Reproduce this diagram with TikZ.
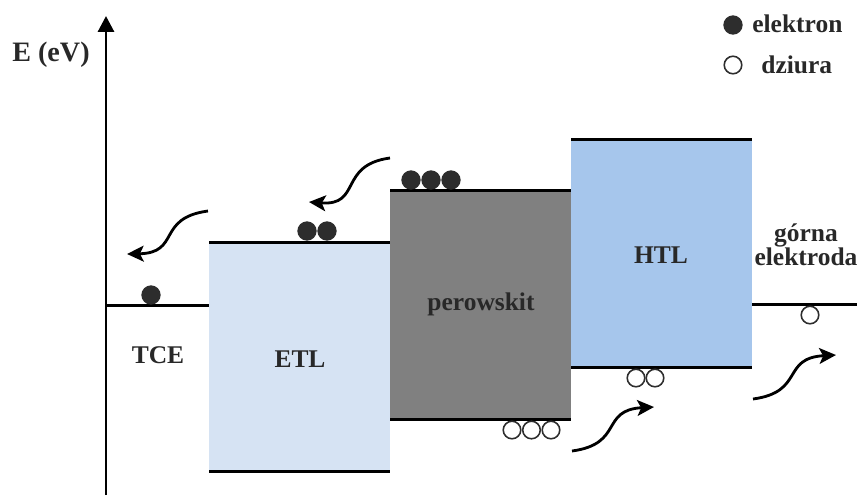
\documentclass[tikz,border=0pt]{standalone}
\usepackage{fontspec}
\setmainfont{Liberation Serif}
\usetikzlibrary{arrows.meta}

\definecolor{etlblue}{RGB}{214,227,243}
\definecolor{htlblue}{RGB}{166,198,236}
\definecolor{perogray}{RGB}{128,128,128}
\definecolor{dotgray}{RGB}{45,45,45}
\definecolor{textgray}{RGB}{40,40,40}

\begin{document}
\begin{tikzpicture}[x=0.02cm, y=-0.02cm,
	level/.style={line width=1.7pt},
	electron/.style={circle, fill=dotgray, inner sep=0pt, minimum size=11pt},
	hole/.style={circle, draw=dotgray, line width=0.9pt, fill=white, inner sep=0pt, minimum size=10pt},
	layertext/.style={font=\fontsize{14.5}{13.6}\selectfont\bfseries, text=textgray, inner sep=0pt, anchor=base},
	hop/.style={line width=1.6pt, -{Stealth[length=9.5pt, width=9pt, inset=2.2pt]}}]

	\useasboundingbox (0,0) rectangle (860,495);

	% Layers
	\fill[etlblue]  (209,242) rectangle (390,471);
	\fill[perogray] (390,190) rectangle (571,419);
	\fill[htlblue]  (571,139) rectangle (752,367);

	% Band edges
	\draw[level] (106,305) -- (209,305);
	\draw[level] (209,242) -- (390,242);
	\draw[level] (209,471) -- (390,471);
	\draw[level] (390,190) -- (571,190);
	\draw[level] (390,419) -- (571,419);
	\draw[level] (571,139) -- (752,139);
	\draw[level] (571,367) -- (752,367);
	\draw[level] (752,304) -- (857,304);

	% Energy axis
	\draw[line width=1.7pt, -{Triangle[length=9pt, width=9pt]}] (106,495) -- (106,16);
	\node[layertext, font=\fontsize{16}{16}\selectfont\bfseries] (eaxis) at (51,61) {E (eV)};

	% Layer names
	\node[layertext] (tce)  at (158,363) {TCE};
	\node[layertext] (etl)  at (300,367) {ETL};
	\node[layertext] (pero) at (481,310) {perowskit};
	\node[layertext] (htl)  at (661,263) {HTL};
	\node[layertext, align=center] (elec) at (806,265) {górna\\elektroda};

	% Electrons
	\node[electron] (e1) at (151,295) {};
	\node[electron] (e2) at (307,231) {};
	\node[electron] (e3) at (327,231) {};
	\foreach \x [count=\i from 4] in {411,431,451}
		\node[electron] (e\i) at (\x,180) {};

	% Holes
	\foreach \x [count=\i] in {512,531.5,551}
		\node[hole] (h\i) at (\x,430) {};
	\node[hole] (h4) at (636,378) {};
	\node[hole] (h5) at (655,378) {};
	\node[hole] (h6) at (810,315) {};

	% Transfer arrows
	\coordinate (a1) at (390,158);
	\coordinate (b1) at (309,202);
	\coordinate (a2) at (208,211);
	\coordinate (b2) at (127,254);
	\coordinate (a3) at (572,451);
	\coordinate (b3) at (654,407);
	\coordinate (a4) at (753,399);
	\coordinate (b4) at (836,355);
	\draw[hop] (a1) .. controls (338,165) and (362,206) .. (b1);
	\draw[hop] (a2) .. controls (156,218) and (181,253) .. (b2);
	\draw[hop] (a3) .. controls (624,444) and (600,410) .. (b3);
	\draw[hop] (a4) .. controls (805,392) and (781,358) .. (b4);

	% Legend
	\node[electron] (le) at (733,25) {};
	\node[hole]     (lh) at (733,65) {};
	\node[layertext, anchor=base west] (lel) at (752,32) {elektron};
	\node[layertext, anchor=base west] (lhl) at (761,73) {dziura};
\end{tikzpicture}
\end{document}
